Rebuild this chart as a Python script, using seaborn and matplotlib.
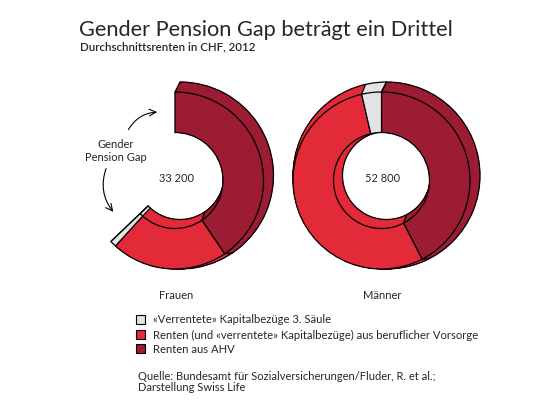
import numpy as np
import matplotlib
matplotlib.use("Agg")
import matplotlib.pyplot as plt
from matplotlib.patches import Arc, Rectangle
import seaborn as sns

# data (CHF per year, 2012), order around the ring clockwise from 12 o'clock
parts = ["Renten aus AHV",
         "Renten (und «verrentete» Kapitalbezüge) aus beruflicher Vorsorge",
         "«Verrentete» Kapitalbezüge 3. Säule"]
frauen = [21400, 11200, 600]
maenner = [22400, 28500, 1900]
groups = ["Frauen", "Männer"]
totals_txt = ["33 200", "52 800"]

colors = ["#9b1c33", "#e22a39", "#e3e3e3"]

sns.set_theme(style="white")
plt.rcParams["font.family"] = ["Lato", "DejaVu Sans"]

W, H = 556, 410
fig = plt.figure(figsize=(W / 100, H / 100), dpi=100)
ax = fig.add_axes([0, 0, 1, 1])

R_front, r_front = 88.5, 48
R_back, r_back = 93.5, 44
shift = np.array([5.0, 5.0])
centers = [np.array([175.0, H - 181.5]), np.array([381.5, H - 181.5])]
scale_total = max(sum(frauen), sum(maenner))


def unit(theta):
    # clockwise from top, data coords (y up)
    t = np.deg2rad(theta)
    return np.array([np.sin(t), np.cos(t)])


def draw_donut(values, c):
    fracs = np.array(values) / scale_total
    span = fracs.sum() * 360
    bounds = np.concatenate([[0], np.cumsum(fracs) * 360])

    # extruded body: stacked rings from back to front
    for t in np.linspace(1, 0.03, 30):
        cc = c + t * shift
        R = R_front + t * (R_back - R_front)
        r = r_front + t * (r_back - r_front)
        wedges, _ = ax.pie(fracs, colors=colors, radius=R, center=tuple(cc),
                           startangle=90, counterclock=False, normalize=False,
                           wedgeprops=dict(width=R - r, linewidth=0.4))
        for w in wedges:
            w.set_edgecolor(w.get_facecolor())

    # back outline
    cb = c + shift
    for rad in (R_back, r_back):
        ax.add_patch(Arc(tuple(cb), 2 * rad, 2 * rad, theta1=90 - span, theta2=90,
                         color="black", lw=0.9, zorder=3))
    if span < 359:
        u = unit(span)
        p1, p2 = cb + r_back * u, cb + R_back * u
        ax.plot([p1[0], p2[0]], [p1[1], p2[1]], color="black", lw=0.9, zorder=3)

    # edges along the depth
    for b in bounds:
        u = unit(b)
        for rf, rb in ((R_front, R_back), (r_front, r_back)):
            p1, p2 = c + rf * u, cb + rb * u
            ax.plot([p1[0], p2[0]], [p1[1], p2[1]], color="black", lw=0.9, zorder=3)

    # front face
    wedges, _ = ax.pie(fracs, colors=colors, radius=R_front, center=tuple(c),
                       startangle=90, counterclock=False, normalize=False,
                       wedgeprops=dict(width=R_front - r_front, edgecolor="black",
                                       linewidth=0.9))
    for w in wedges:
        w.set_zorder(4)


for vals, c, lab, tot in zip([frauen, maenner], centers, groups, totals_txt):
    draw_donut(vals, c)
    ax.text(c[0] + 1, c[1] + 3, tot, ha="center", va="center", fontsize=8, zorder=5)
    ax.text(c[0] + 1, H - 296, lab, ha="center", va="center", fontsize=8)

ax.set_xlim(0, W)
ax.set_ylim(0, H)
ax.set_aspect("equal")
ax.axis("off")

# gap annotation
ax.text(116, H - 151, "Gender\nPension Gap", ha="center", va="center",
        fontsize=8, linespacing=1.15)
ax.annotate("", xy=(160, H - 113), xytext=(127, H - 133),
            arrowprops=dict(arrowstyle="->", color="black", lw=0.8,
                            connectionstyle="arc3,rad=-0.3"))
ax.annotate("", xy=(115, H - 215), xytext=(107, H - 167),
            arrowprops=dict(arrowstyle="->", color="black", lw=0.8,
                            connectionstyle="arc3,rad=0.3"))

# titles
ax.text(79, H - 30, "Gender Pension Gap beträgt ein Drittel", fontsize=15.7,
        ha="left", va="center")
ax.text(80, H - 47, "Durchschnittsrenten in CHF, 2012", fontsize=8.3,
        fontweight="semibold", ha="left", va="center")

# legend (3. Säule on top, AHV at bottom)
leg_y = [320, 335.5, 349.5]
for i, (name, col) in enumerate(zip(parts[::-1], colors[::-1])):
    y = H - leg_y[i]
    ax.add_patch(Rectangle((136, y - 4.5), 9, 9, facecolor=col, edgecolor="black", lw=0.8))
    ax.text(153, y, name, fontsize=8.1, ha="left", va="center")

ax.text(138, H - 377, "Quelle: Bundesamt für Sozialversicherungen/Fluder, R. et al.;",
        fontsize=8, ha="left", va="center")
ax.text(138, H - 388, "Darstellung Swiss Life", fontsize=8, ha="left", va="center")

fig.savefig("out.png", dpi=100, facecolor="white")
